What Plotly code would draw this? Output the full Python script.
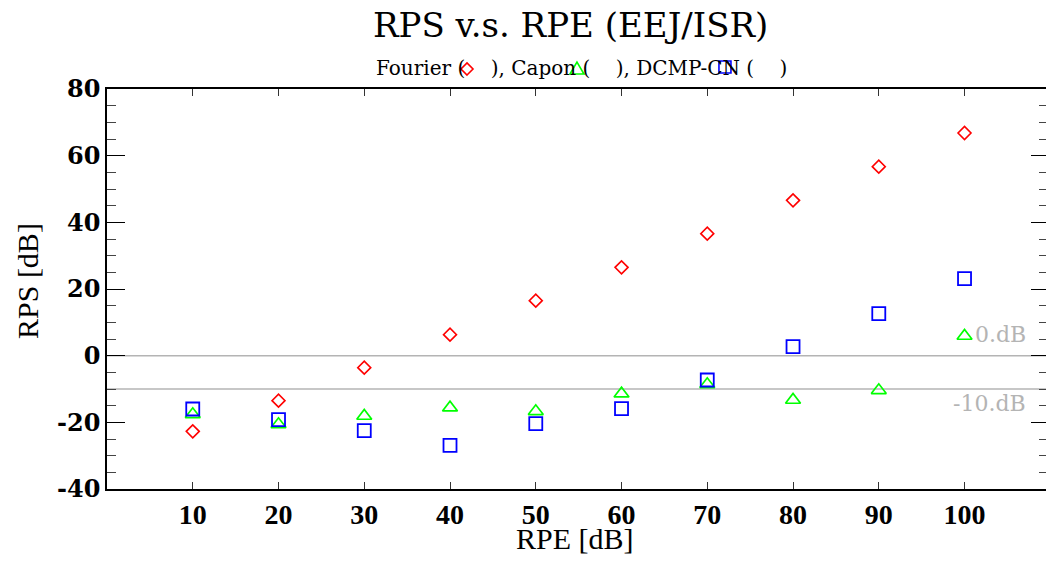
import plotly.graph_objects as go

# ---- data ----
rpe = [10, 20, 30, 40, 50, 60, 70, 80, 90, 100]
fourier = [-22.7, -13.5, -3.6, 6.3, 16.5, 26.5, 36.6, 46.6, 56.7, 66.8]
capon = [-17.6, -20.6, -18.1, -15.6, -16.7, -11.4, -8.6, -13.3, -10.4, 5.9]
dcmp_cn = [-16.0, -19.2, -22.5, -26.9, -20.4, -15.9, -7.3, 2.7, 12.6, 23.1]
ref_levels = [0, -10]
ref_labels = ["0.dB", "-10.dB"]
x_ticks = [10, 20, 30, 40, 50, 60, 70, 80, 90, 100]
y_ticks = [-40, -20, 0, 20, 40, 60, 80]
y_ticktext = ["-40", "-20", "0", "20", "40", "60", "80"]

TIMES = "Liberation Serif"
DJV = "DejaVu Serif"
GRAY = "#b4b4b4"

fig = go.Figure()

fig.add_trace(go.Scatter(x=rpe, y=fourier, mode="markers", name="Fourier",
                         marker=dict(symbol="diamond-open", size=10, color="#ff0000",
                                     line=dict(width=1.6, color="#ff0000"))))
fig.add_trace(go.Scatter(x=rpe, y=capon, mode="markers", name="Capon",
                         marker=dict(symbol="triangle-up-open", size=13, color="#00ff00",
                                     line=dict(width=1.7, color="#00ff00"))))
fig.add_trace(go.Scatter(x=rpe, y=dcmp_cn, mode="markers", name="DCMP-CN",
                         marker=dict(symbol="square-open", size=13, color="#0000ff",
                                     line=dict(width=1.8, color="#0000ff"))))
# empty trace to activate the right-hand tick axis
fig.add_trace(go.Scatter(x=[], y=[], yaxis="y2", showlegend=False, hoverinfo="skip"))

for lev in ref_levels:
    fig.add_shape(type="line", xref="paper", x0=0, x1=1, yref="y", y0=lev, y1=lev,
                  line=dict(color=GRAY, width=1.5), layer="below")

fig.add_annotation(x=1.0, xref="paper", xanchor="right", xshift=-18,
                   y=ref_levels[0], yref="y", yanchor="middle", yshift=21,
                   text=ref_labels[0], showarrow=False,
                   font=dict(family=DJV, size=22, color=GRAY))
fig.add_annotation(x=1.0, xref="paper", xanchor="right", xshift=-18,
                   y=ref_levels[1], yref="y", yanchor="middle", yshift=-14,
                   text=ref_labels[1], showarrow=False,
                   font=dict(family=DJV, size=22, color=GRAY))

# title, subtitle and axis titles
fig.add_annotation(x=0.4936, xref="paper", y=1.16, yref="paper", xanchor="center", yanchor="middle",
                   text="RPS v.s. RPE (EEJ/ISR)", showarrow=False,
                   font=dict(family=DJV, size=34, color="black"))
nb = "\u00a0"
subtitle = f"Fourier ({nb*4}), Capon ({nb*4}), DCMP-CN ({nb*4})"
fig.add_annotation(x=0.5053, xref="paper", y=1.0525, yref="paper", xanchor="center", yanchor="middle",
                   text=subtitle, showarrow=False,
                   font=dict(family=DJV, size=20, color="black"))
fig.add_annotation(x=0.4984, xref="paper", y=-0.1235, yref="paper", xanchor="center", yanchor="middle",
                   text="RPE [dB]", showarrow=False,
                   font=dict(family=TIMES, size=30, color="black"))
fig.add_annotation(x=-0.0852, xref="paper", y=0.52, yref="paper", xanchor="center", yanchor="middle",
                   text="RPS [dB]", textangle=-90, showarrow=False,
                   font=dict(family=TIMES, size=30, color="black"))

# legend key symbols (as in the reference, slightly offset)
key_paths = [
    (0.3834, 1.050, "M0,-6L6,0L0,6L-6,0Z", "#ff0000"),
    (0.5005, 1.050, "M-7,-5L7,-5L0,7Z", "#00ff00"),
    (0.6581, 1.055, "M-6,-6L6,-6L6,6L-6,6Z", "#0000ff"),
]
for xa, ya, p, c in key_paths:
    fig.add_shape(type="path", xref="paper", yref="paper", xsizemode="pixel", ysizemode="pixel",
                  xanchor=xa, yanchor=ya, path=p, line=dict(color=c, width=1.6))

fig.update_layout(
    width=1046, height=565,
    margin=dict(l=107, r=0, t=89, b=76, autoexpand=False),
    paper_bgcolor="white", plot_bgcolor="white",
    showlegend=False,
    xaxis=dict(range=[0, 109.5], tickvals=x_ticks, ticktext=[str(v) for v in x_ticks],
               ticks="inside", ticklen=7, tickwidth=1.2, tickcolor="#333",
               showline=True, linecolor="black", linewidth=1.5, mirror="ticks",
               showgrid=False, zeroline=False, automargin=False, ticklabelstandoff=0,
               tickfont=dict(family=TIMES, size=28, color="black", weight="bold")),
    yaxis=dict(range=[-40, 80], tickvals=y_ticks, ticktext=y_ticktext,
               ticks="inside", ticklen=18, tickwidth=1.2, tickcolor="black",
               minor=dict(dtick=5, ticks="inside", ticklen=9, tickwidth=1.2, tickcolor="#444", showgrid=False),
               showline=True, linecolor="black", linewidth=1.5, mirror=False,
               showgrid=False, zeroline=False, automargin=False,
               tickfont=dict(family=DJV, size=24, color="black", weight="bold")),
    yaxis2=dict(range=[-40, 80], overlaying="y", side="right", tickvals=y_ticks,
                ticks="inside", ticklen=15, tickwidth=1.2, tickcolor="black",
                minor=dict(dtick=5, ticks="inside", ticklen=7, tickwidth=1.2, tickcolor="#444", showgrid=False),
                showline=False, showgrid=False, zeroline=False, showticklabels=False, automargin=False),
)

fig.write_html(
    "out.html",
    config={"displayModeBar": False},
    post_script="document.body.style.margin='0';document.documentElement.style.overflow='hidden';document.body.style.overflow='hidden';",
)
